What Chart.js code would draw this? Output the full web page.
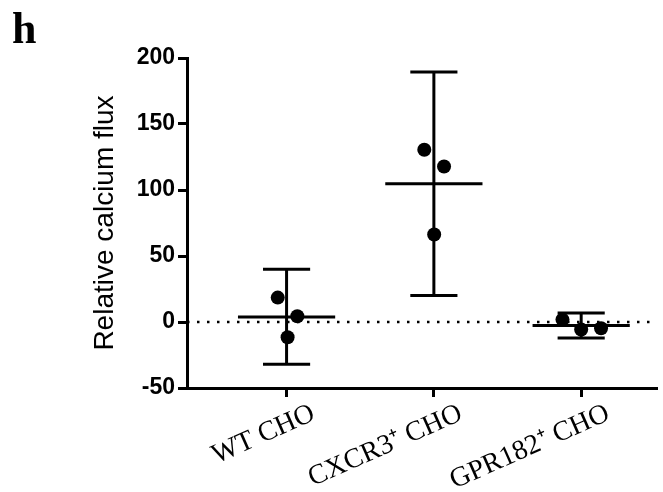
<!DOCTYPE html>
<html>
<head>
<meta charset="utf-8">
<script src="https://cdn.jsdelivr.net/npm/chart.js@4.4.0/dist/chart.umd.min.js"></script>
<style>
html, body { margin: 0; padding: 0; background: #fff; }
#wrap { width: 663px; height: 492px; }
</style>
</head>
<body>
<div id="wrap"><canvas id="myChart" width="663" height="492"></canvas></div>
<script>
// groups
const categories = ["WT CHO", "CXCR3\u207A CHO", "GPR182\u207A CHO"];
// replicate values per group
const wtValues = [18.5, 4.3, -11.5];
const cxcr3Values = [130.5, 117.8, 66.3];
const gpr182Values = [1.8, -5.7, -4.7];
// mean and error bar ends
const means = [3.8, 104.8, -2.7];
const errLow = [-32, 20, -12.2];
const errHigh = [40, 189.3, 6.8];
const yTicks = [-50, 0, 50, 100, 150, 200];

// horizontal spread of the dots inside a group (layout only)
const jitter = [[-0.06, 0.073, 0.007], [-0.065, 0.069, 0.002], [-0.127, 0, 0.135]];
const xMin = -0.676, xMax = 2.508;
const meanHalf = 0.33, capHalf = 0.16;

const groups = [wtValues, cxcr3Values, gpr182Values];

const lineDs = (pts) => ({
    type: "scatter",
    data: pts,
    showLine: true,
    borderColor: "#000",
    borderWidth: 3,
    pointRadius: 0,
    fill: false,
});

const datasets = [];
// dots first so they sit on top
const dots = [];
groups.forEach((vals, i) => {
    vals.forEach((v, j) => dots.push({ x: i + jitter[i][j], y: v }));
});
datasets.push({
    type: "scatter",
    data: dots,
    pointRadius: 7,
    pointBackgroundColor: "#000",
    pointBorderWidth: 0,
});
means.forEach((m, i) => {
    datasets.push(lineDs([{ x: i - meanHalf, y: m }, { x: i + meanHalf, y: m }]));
    datasets.push(lineDs([{ x: i, y: errLow[i] }, { x: i, y: errHigh[i] }]));
    datasets.push(lineDs([{ x: i - capHalf, y: errHigh[i] }, { x: i + capHalf, y: errHigh[i] }]));
    datasets.push(lineDs([{ x: i - capHalf, y: errLow[i] }, { x: i + capHalf, y: errLow[i] }]));
});
// dotted zero line
datasets.push({
    type: "scatter",
    data: [{ x: xMin, y: 0 }, { x: xMax, y: 0 }],
    showLine: true,
    borderColor: "#000",
    borderWidth: 2.5,
    borderDash: [2.5, 7.5],
    pointRadius: 0,
});

// panel letter
const panelLabel = {
    id: "panelLabel",
    afterDraw(chart) {
        const c = chart.ctx;
        c.save();
        c.font = "bold 44px 'Liberation Serif'";
        c.fillStyle = "#000";
        c.textBaseline = "alphabetic";
        c.fillText("h", 12, 43);
        c.restore();
    },
};

const ctx = document.getElementById("myChart").getContext("2d");
const myChart = new Chart(ctx, {
    type: "scatter",
    data: { datasets: datasets },
    plugins: [panelLabel],
    options: {
        responsive: false,
        animation: false,
        devicePixelRatio: 1,
        layout: { padding: { left: 0, top: 58, right: 0, bottom: 0 } },
        plugins: {
            legend: { display: false },
            tooltip: { enabled: false },
        },
        scales: {
            x: {
                type: "linear",
                min: xMin,
                max: xMax,
                afterBuildTicks: (scale) => {
                    scale.ticks = categories.map((c, i) => ({ value: i }));
                },
                afterFit: (scale) => { scale.height = 104; },
                ticks: {
                    callback: (v) => categories[v],
                    minRotation: 24,
                    maxRotation: 24,
                    labelOffset: 27,
                    padding: 0,
                    color: "#000",
                    font: { family: "'Liberation Serif'", size: 28 },
                },
                grid: { drawOnChartArea: false, drawTicks: true, tickLength: 9, lineWidth: 3, color: "#000" },
                border: { display: true, width: 3, color: "#000" },
            },
            y: {
                min: -50,
                max: 200,
                afterBuildTicks: (scale) => {
                    scale.ticks = yTicks.map((v) => ({ value: v }));
                },
                afterFit: (scale) => { scale.width = 187; },
                ticks: {
                    padding: 3,
                    color: "#000",
                    font: { family: "'Liberation Sans'", size: 23, weight: "bold" },
                },
                title: {
                    display: true,
                    text: "Relative calcium flux",
                    color: "#000",
                    padding: { top: 88, bottom: 0 },
                    font: { family: "'Liberation Sans'", size: 28 },
                },
                grid: { drawOnChartArea: false, drawTicks: true, tickLength: 9, lineWidth: 3, color: "#000" },
                border: { display: true, width: 3, color: "#000" },
            },
        },
    },
});
</script>
</body>
</html>
